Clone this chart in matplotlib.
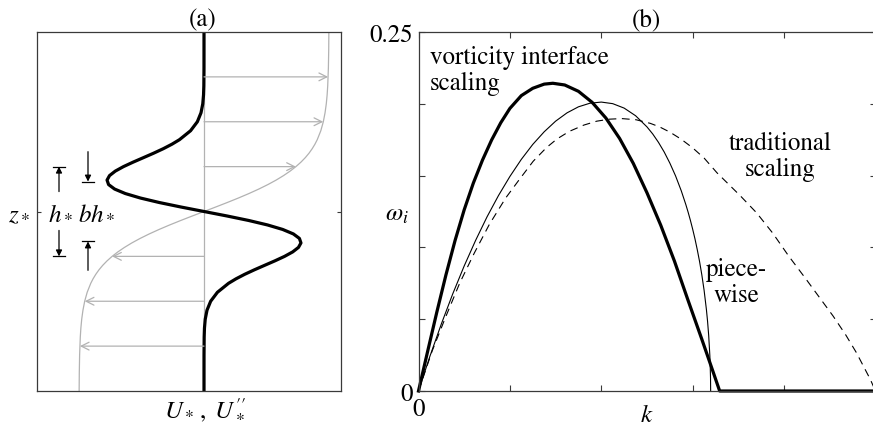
import numpy as np
import matplotlib.pyplot as plt

plt.rcParams['font.family'] = ['STIXGeneral', 'DejaVu Serif']
plt.rcParams['mathtext.fontset'] = 'stix'
plt.rcParams['font.size'] = 18

# ---- panel (a): velocity profile and its curvature (upper half, z >= 0) ----
z_half = [0.0, 0.1, 0.2, 0.3, 0.4, 0.5, 0.6, 0.7, 0.8, 0.9, 1.0, 1.1, 1.2, 1.3,
          1.4, 1.5, 1.6, 1.8, 2.0, 2.2, 2.4, 2.6, 2.8, 3.2, 3.6, 4.0]
U_half = [0.0, 0.0937, 0.1858, 0.2748, 0.3593, 0.4382, 0.5110, 0.5771, 0.6362,
          0.6890, 0.7352, 0.7755, 0.8103, 0.8403, 0.8657, 0.8875, 0.9059, 0.9345,
          0.9545, 0.9684, 0.9783, 0.9851, 0.9897, 0.9951, 0.9977, 0.9989]
Upp_half = [0.0, -0.1845, -0.3575, -0.5085, -0.6294, -0.7150, -0.7633, -0.7756,
            -0.7558, -0.7097, -0.6444, -0.5670, -0.4845, -0.4025, -0.3253, -0.2562,
            -0.1964, -0.1074, -0.0532, -0.0240, -0.0098, -0.0037, -0.0013, -0.0001,
            0.0, 0.0]

arrow_z = [-3, -2, -1, 1, 2, 3]
arrow_u = [-0.993, -0.954, -0.735, 0.735, 0.954, 0.993]

# ---- panel (b): growth rate curves ----
k_vis = [0.0, 0.02, 0.04, 0.06, 0.08, 0.1, 0.12, 0.14, 0.16, 0.18, 0.2, 0.225,
         0.25, 0.275, 0.294, 0.32, 0.35, 0.38, 0.41, 0.44, 0.47, 0.5, 0.53, 0.56,
         0.59, 0.62, 0.645, 0.659, 1.0]
w_vis = [0.0, 0.0276, 0.0548, 0.0808, 0.1048, 0.1262, 0.1448, 0.1608, 0.1748,
         0.1868, 0.1968, 0.2057, 0.2108, 0.2137, 0.2143, 0.2131, 0.2087, 0.2010,
         0.1901, 0.1759, 0.1585, 0.1380, 0.1155, 0.0905, 0.0630, 0.0360, 0.0130,
         0.0, 0.0]

k_pw = [0.0, 0.025, 0.05, 0.075, 0.1, 0.125, 0.15, 0.175, 0.2, 0.225, 0.25, 0.275,
        0.3, 0.325, 0.35, 0.375, 0.4, 0.425, 0.45, 0.475, 0.5, 0.5125, 0.525, 0.5375,
        0.55, 0.5625, 0.575, 0.585, 0.59, 0.595, 0.6, 0.605, 0.61, 0.615, 0.62,
        0.625, 0.63, 0.6325, 0.635, 0.6375, 0.638, 0.639, 0.6393]
w_pw = [0.0, 0.0242, 0.0467, 0.0677, 0.0871, 0.1049, 0.1213, 0.1361, 0.1494, 0.1613,
        0.1717, 0.1805, 0.1879, 0.1937, 0.1979, 0.2004, 0.2012, 0.2001, 0.1970,
        0.1917, 0.1839, 0.1790, 0.1732, 0.1665, 0.1587, 0.1498, 0.1394, 0.1298,
        0.1245, 0.1188, 0.1126, 0.1059, 0.0984, 0.0902, 0.0808, 0.0700, 0.0567,
        0.0486, 0.0386, 0.0248, 0.0209, 0.0091, 0.0]

k_trad = [0.0, 0.03, 0.06, 0.09, 0.122, 0.155, 0.191, 0.22, 0.251, 0.28, 0.303, 0.33,
          0.362, 0.39, 0.418, 0.445, 0.476, 0.507, 0.527, 0.55, 0.575, 0.6, 0.625,
          0.653, 0.704, 0.74, 0.775, 0.81, 0.848, 0.88, 0.907, 0.935, 0.958, 0.988,
          1.0]
w_trad = [0.0, 0.028, 0.052, 0.075, 0.096, 0.116, 0.1345, 0.147, 0.160, 0.1695,
          0.1755, 0.1808, 0.1852, 0.1879, 0.1893, 0.1897, 0.1889, 0.1864, 0.1840,
          0.1803, 0.1753, 0.1693, 0.1622, 0.152, 0.136, 0.124, 0.110, 0.094, 0.0779,
          0.064, 0.0523, 0.039, 0.0268, 0.0085, 0.0]

# mirror the symmetric / antisymmetric profiles to the lower half
z_prof = np.concatenate([-np.array(z_half[::-1]), z_half[1:]])
U_prof = np.concatenate([-np.array(U_half[::-1]), U_half[1:]])
Upp_prof = np.concatenate([-np.array(Upp_half[::-1]), Upp_half[1:]])

W, H = 873, 431
fig = plt.figure(figsize=(W / 100, H / 100), dpi=100)
ax_a = fig.add_axes([37 / W, 39 / H, 304 / W, 359 / H])
ax_b = fig.add_axes([418.5 / W, 39 / H, 457 / W, 359 / H])

gray = '#b2b2b2'
spine_col = '#3a3a3a'

# panel (a)
ax_a.plot([0, 0], [-4, 4], color=gray, lw=0.9)
ax_a.plot(U_prof, z_prof, color=gray, lw=0.9)
for z, u in zip(arrow_z, arrow_u):
    ax_a.annotate('', xy=(u, z), xytext=(0, z),
                  arrowprops=dict(arrowstyle='->', color=gray, lw=0.9,
                                  shrinkA=0, shrinkB=0, mutation_scale=14))
ax_a.plot(Upp_prof, z_prof, color='k', lw=2.3)


def dim_arrow(x, y_from, y_to):
    ax_a.annotate('', xy=(x, y_to), xytext=(x, y_from),
                  arrowprops=dict(arrowstyle='-|>', color='k', lw=0.9,
                                  shrinkA=0, shrinkB=0, mutation_scale=9))
    ax_a.plot([x - 0.048, x + 0.048], [y_to, y_to], color='k', lw=0.9)


dim_arrow(-1.16, 0.444, 1.0)
dim_arrow(-1.16, -0.422, -1.0)
dim_arrow(-0.928, 1.333, 0.667)
dim_arrow(-0.928, -1.311, -0.667)
ax_a.text(-1.15, 0, r'$h_*$', ha='center', va='center')
ax_a.text(-0.86, 0, r'$bh_*$', ha='center', va='center')

ax_a.set_xlim(-1.336, 1.096)
ax_a.set_ylim(-4, 4)
ax_a.set_xticks([])
ax_a.set_yticks([0])
ax_a.set_yticklabels([r'$z_*$'])
ax_a.tick_params(axis='y', direction='in', length=3, left=True, right=True,
                 pad=5, color=spine_col)

# panel (b)
ax_b.plot(k_trad, w_trad, color='k', lw=0.8, ls=(0, (7, 5)))
ax_b.plot(k_pw, w_pw, color='k', lw=0.8)
ax_b.plot(k_vis, w_vis, color='k', lw=2.3, clip_on=False)
ax_b.set_xlim(0, 1)
ax_b.set_ylim(0, 0.25)
ax_b.set_xticks(np.arange(0, 1.01, 0.2))
ax_b.set_xticklabels(['0', '', '', '', '', ''])
ax_b.set_yticks(np.arange(0, 0.251, 0.05))
ax_b.set_yticklabels(['0', '', '', '', '', '0.25'])
ax_b.tick_params(direction='in', length=4, top=True, right=True, pad=4,
                 color=spine_col)

ax_b.text(0.025, 0.2236, 'vorticity interface\nscaling', ha='left', va='center',
          linespacing=1.1)
ax_b.text(0.791, 0.1637, 'traditional\nscaling', ha='center', va='center',
          multialignment='center', linespacing=1.1)
ax_b.text(0.695, 0.0757, 'piece-\nwise', ha='center', va='center',
          multialignment='center', linespacing=1.1)

for ax in (ax_a, ax_b):
    for sp in ax.spines.values():
        sp.set_color(spine_col)
        sp.set_linewidth(0.9)

fig.text(203 / W, 1 - 20 / H, '(a)', ha='center', va='center')
fig.text(646 / W, 1 - 20 / H, '(b)', ha='center', va='center')
fig.text(205 / W, 1 - 410 / H, r"$U_*\,,\;U_*''$", ha='center', va='center')
fig.text(397 / W, 1 - 215 / H, r'$\omega_i$', ha='center', va='center')
fig.text(647 / W, 1 - 416 / H, r'$k$', ha='center', va='center')

fig.savefig('out.png', dpi=100)
